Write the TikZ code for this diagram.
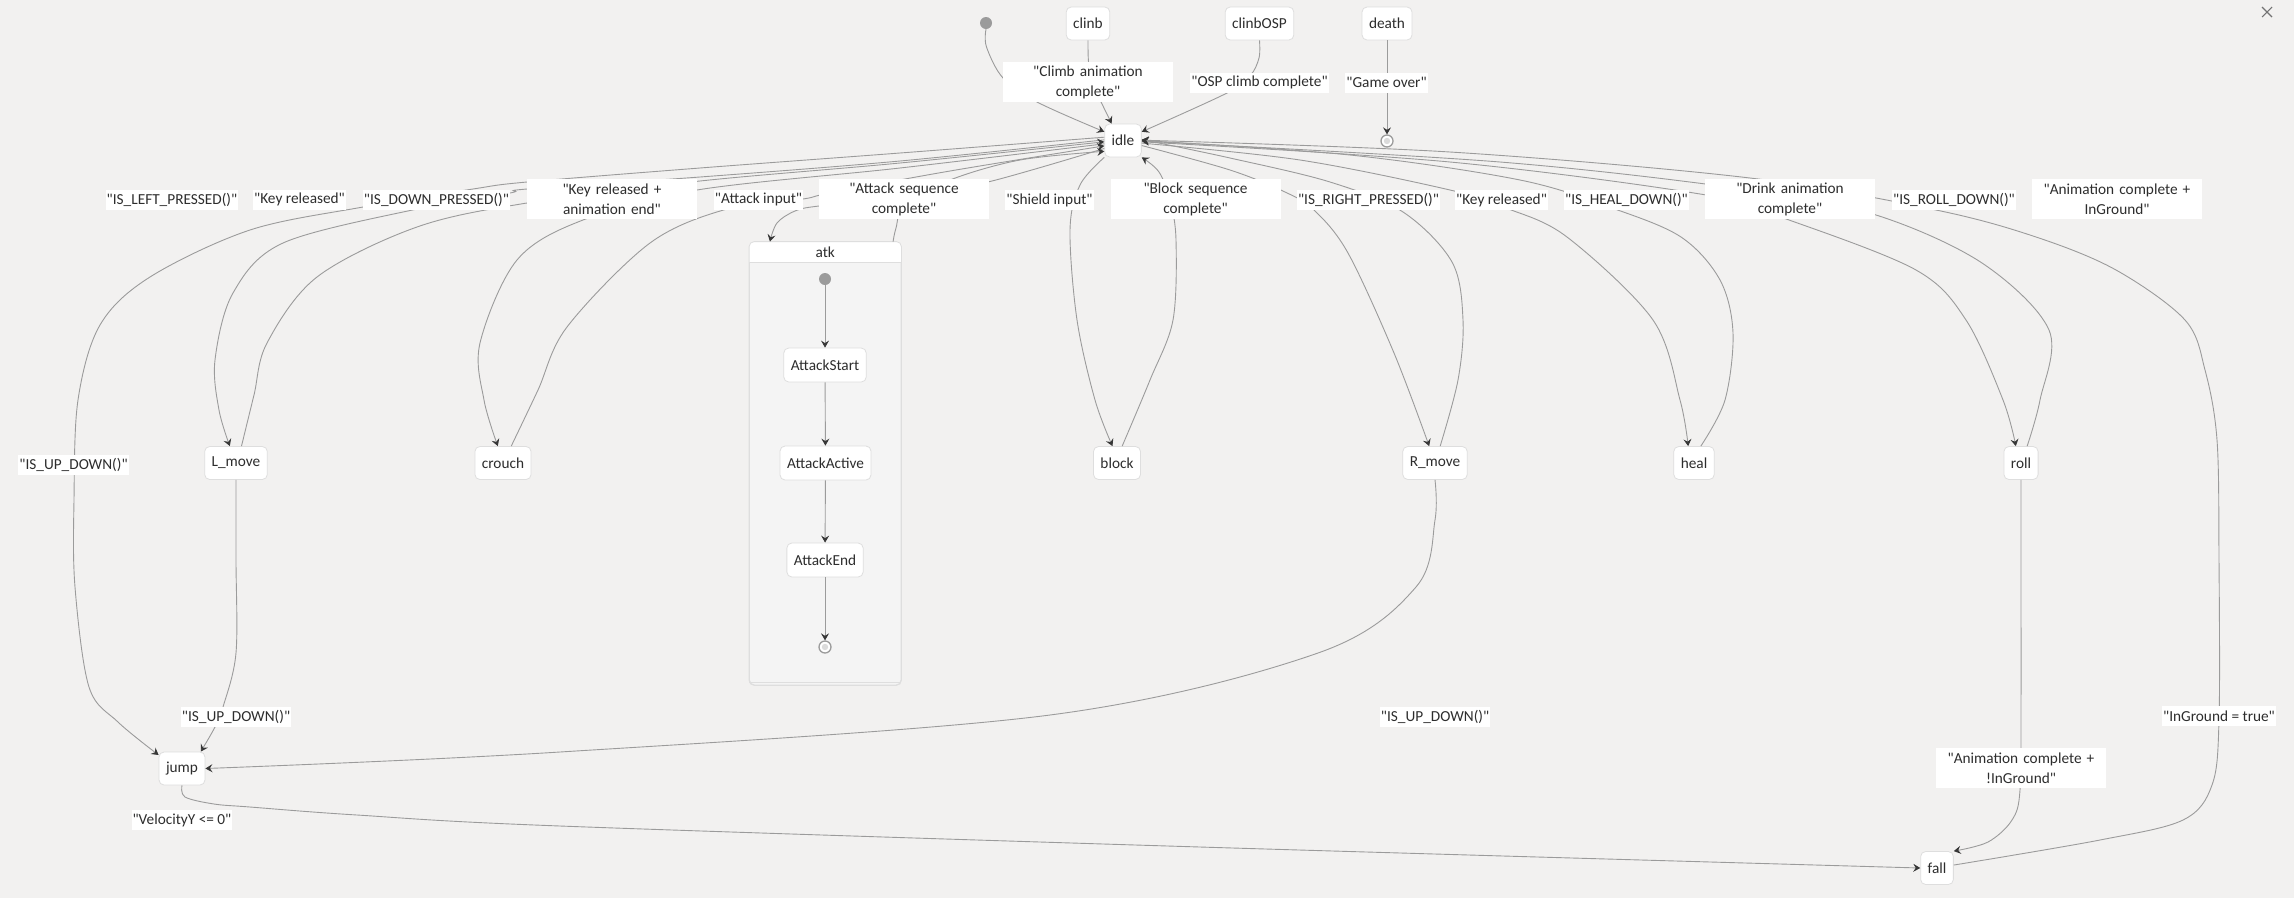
\documentclass[tikz,border=0pt]{standalone}
\usepackage{fontspec}
\setmainfont{Carlito}[Ligatures=TeXOff]
\usetikzlibrary{arrows.meta,calc}
\definecolor{bg}{RGB}{242,241,240}
\definecolor{edgec}{RGB}{155,155,155}
\definecolor{txt}{RGB}{45,45,45}
\definecolor{nbord}{RGB}{222,222,222}
\definecolor{tipc}{RGB}{55,55,55}
\definecolor{dotc}{RGB}{155,155,155}
\definecolor{compbody}{RGB}{244,244,244}
\begin{document}
\begin{tikzpicture}[x=1pt,y=-1pt,
  every node/.style={font=\fontsize{15.3}{20}\selectfont, text=txt},
  state/.style={draw=nbord, fill=white, rounded corners=5pt, line width=0.8pt,
    minimum height=33pt, inner xsep=7pt, inner ysep=0pt},
  lbl/.style={fill=white, inner xsep=1pt, inner ysep=0pt, minimum height=20pt},
  lbltwo/.style={lbl, align=center, text width=168pt, minimum height=40pt},
  tr/.style={draw=edgec, line width=0.9pt,
    -{Stealth[length=7pt,width=8pt,inset=2.5pt,color=tipc]}},
  startdot/.style={circle, fill=dotc, minimum size=12pt, inner sep=0pt},
  enddot/.style={circle, draw=dotc, line width=1.3pt, fill=white,
    minimum size=12pt, inner sep=0pt,
    path picture={\fill[black!14] (path picture bounding box.center) circle (3.2pt);}},
  sm/.style={smooth, tension=0.55}
]
\useasboundingbox (0,0) rectangle (2294,898);
\fill[bg] (0,0) rectangle (2294,898);

% close mark
\draw[black!55, line width=1.1pt] (2262,7) -- (2272,17) (2262,17) -- (2272,7);

% composite state atk
\node[draw=nbord, fill=compbody, rounded corners=5pt, line width=0.8pt,
  minimum width=151.5pt, minimum height=443pt, inner sep=0pt] (atk) at (825.25,463.5) {};
\path[fill=white] ([yshift=-21pt]atk.north west)
  {[rounded corners=5pt] -- (atk.north west) -- (atk.north east)}
  -- ([yshift=-21pt]atk.north east) -- cycle;
\draw[nbord, rounded corners=5pt, line width=0.8pt] (atk.south west) rectangle (atk.north east);
\draw[nbord, line width=1pt] ([yshift=-21pt]atk.north west) -- ([yshift=-21pt]atk.north east);
\draw[nbord, line width=0.8pt] ([yshift=3pt]atk.south west) -- ([yshift=3pt]atk.south east);
\node (atktitle) at (825.25,252.5) {atk};

% states
\node[startdot] (init0) at (986,23) {};
\node[state] (clinb) at (1088,23.5) {clinb};
\node[state] (clinbOSP) at (1259.5,23.5) {clinbOSP};
\node[state] (death) at (1387,23.5) {death};
\node[state] (idle) at (1123,140.5) {idle};
\node[enddot] (end0) at (1387,141) {};
\node[state] (Lmove) at (236,463) {L\_move};
\node[state] (crouch) at (503,463) {crouch};
\node[state] (block) at (1117,463) {block};
\node[state] (Rmove) at (1435,463) {R\_move};
\node[state] (heal) at (1694,463) {heal};
\node[state] (roll) at (2021,463) {roll};
\node[state] (jump) at (182,768.5) {jump};
\node[state] (fall) at (1937,868) {fall};

\node[startdot] (init1) at (825,279) {};
\node[state, minimum height=34pt] (AS) at (825,365) {AttackStart};
\node[state, minimum height=34pt] (AA) at (825.5,463) {AttackActive};
\node[state, minimum height=34pt] (AE) at (825,560) {AttackEnd};
\node[enddot] (end1) at (825,647) {};

% inner transitions
\draw[tr] (init1) -- (AS);
\draw[tr] (AS) -- (AA);
\draw[tr] (AA) -- (AE);
\draw[tr] (AE) -- (end1);

% top transitions
\draw[tr] plot[sm] coordinates {(init0.south) (986.5,47) (1003,78) (1037,102) (idle.155)};
\draw[tr] plot[sm] coordinates {(clinb.south) (1088.5,62) (1092,85) (1101,102) (idle.124)};
\draw[tr] plot[sm] coordinates {(clinbOSP.south) (1259,58) (1250,76) (1227,93) (idle.25)};
\draw[tr] (death) -- (end0);

% left fan
\draw[tr] plot[sm] coordinates {(idle.170) (900,153) (700,168) (527,182) (473,189) (363,207) (250,230) (150,277) (100,325) (78,400) (74,500) (75,587) (89,687) (118,722) (jump.150)};
\draw[tr] plot[sm] coordinates {(idle.178) (900,161) (700,177) (527,189) (510,193) (417,209) (283,243) (233,293) (215,360) (219,410) (Lmove.110)};
\draw[tr] plot[sm] coordinates {(Lmove.72) (254,395) (267,343) (317,277) (417,227) (527,203) (700,181) (900,163) (idle.184)};
\draw[tr] plot[sm] coordinates {(idle.190) (900,168) (697,190) (583,220) (517,260) (480,343) (484,400) (crouch.107)};
\draw[tr] plot[sm] coordinates {(crouch.64) (538,390) (567,327) (650,243) (727,209) (803,199) (830,193) (950,171) (idle.196)};
\draw[tr] plot[sm] coordinates {(idle.203) (988,182) (900,198) (819,206) (795,211) (777,223) (atk.104.7)};
\draw[tr] plot[sm] coordinates {(atk.73.2) (896,228) (905,205) (950,180) (1020,160) (idle.210)};

% block
\draw[tr] plot[sm] coordinates {(idle.south west) (1080,185) (1070,230) (1077,320) (1095,400) (block.105)};
\draw[tr] plot[sm] coordinates {(block.73) (1150,380) (1173,320) (1176,240) (1170,200) (1159,172) (idle.south east)};

% right fan
\draw[tr] plot[sm] coordinates {(idle.345) (1230,170) (1285,192) (1314,210) (1348,253) (1394,353) (Rmove.109)};
\draw[tr] plot[sm] coordinates {(Rmove.73) (1458,380) (1463,320) (1452,262) (1403,212) (1330,182) (1230,158) (idle.3)};
\draw[tr] plot[sm] coordinates {(idle.352) (1300,160) (1450,190) (1506,208) (1567,237) (1653,320) (1680,400) (heal.109)};
\draw[tr] plot[sm] coordinates {(heal.68) (1725,400) (1733,333) (1720,280) (1681,237) (1612,208) (1520,180) (1350,155) (idle.0)};
\draw[tr] plot[sm] coordinates {(idle.356) (1450,162) (1706,195) (1789,220) (1916,270) (1966,320) (2003,400) (roll.107)};
\draw[tr] plot[sm] coordinates {(roll.70) (2040,400) (2049,330) (1982,263) (1876,215) (1750,190) (1500,162) (idle.358)};
\draw[tr] plot[sm] coordinates {(fall.10) (2100,840) (2183,820) (2212,785) (2219,720) (2219,560) (2217,440) (2205,370) (2185,320) (2116,270) (2036,237) (1936,210) (1750,178) (1450,152) (idle.1)};

% lower transitions
\draw[tr] plot[sm] coordinates {(roll.south) (2021,600) (2021,700) (2020,790) (2012,820) (1988,842) (fall.north east)};
\draw[tr] plot[sm] coordinates {(jump.south) (185,797) (214,804) (250,807) (357,815) (560,826) (1200,847) (fall.west)};
\draw[tr] plot[sm] coordinates {(Rmove.south) (1435,520) (1416,587) (1318,653) (1050,715) (560,752) (jump.east)};
\draw[tr] plot[sm] coordinates {(Lmove.south) (236,560) (236,653) (223,707) (215,727) (jump.42)};

% labels
\node[lbltwo] (lClimb) at (1088,82) {"Climb animation\\complete"};
\node[lbl] (lOSP) at (1259.5,82.5) {"OSP climb complete"};
\node[lbl] (lGame) at (1386.5,82.5) {"Game over"};
\node[lbl] (lLeft) at (172,199.5) {"IS\_LEFT\_PRESSED()"};
\node[lbl] (lKR1) at (299.5,199.5) {"Key released"};
\node[lbl] (lDown) at (436.5,199.5) {"IS\_DOWN\_PRESSED()"};
\node[lbltwo] (lKRA) at (612,199) {"Key released +\\animation end"};
\node[lbl] (lAtkIn) at (758.5,199.5) {"Attack input"};
\node[lbltwo] (lAtkSeq) at (904,199) {"Attack sequence\\complete"};
\node[lbl] (lShield) at (1049.5,200) {"Shield input"};
\node[lbltwo] (lBlock) at (1195.5,199) {"Block sequence\\complete"};
\node[lbl] (lRight) at (1368.5,200) {"IS\_RIGHT\_PRESSED()"};
\node[lbl] (lKR2) at (1501.5,200) {"Key released"};
\node[lbl] (lHeal) at (1626.5,200) {"IS\_HEAL\_DOWN()"};
\node[lbltwo] (lDrink) at (1790,199) {"Drink animation\\complete"};
\node[lbl] (lRoll) at (1954,200) {"IS\_ROLL\_DOWN()"};
\node[lbltwo] (lAnimIn) at (2117,199) {"Animation complete +\\InGround"};
\node[lbl] (lUp1) at (73.5,464.5) {"IS\_UP\_DOWN()"};
\node[lbl] (lUp2) at (236,716.5) {"IS\_UP\_DOWN()"};
\node[lbl] (lUp3) at (1435,716.5) {"IS\_UP\_DOWN()"};
\node[lbl] (lVel) at (182,820) {"VelocityY <= 0"};
\node[lbltwo] (lAnimNot) at (2021,768) {"Animation complete +\\!InGround"};
\node[lbl] (lTrue) at (2219,716) {"InGround = true"};
\end{tikzpicture}
\end{document}
